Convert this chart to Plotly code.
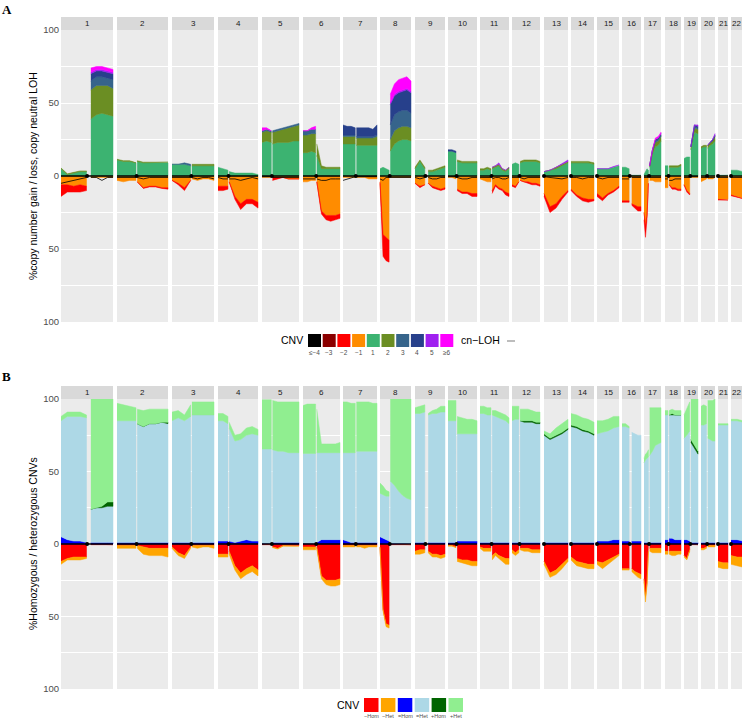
import numpy as np
import plotly.graph_objects as go

# ---------------- data ----------------
CHROMS = list(range(1, 23))
CHR_LEN = [249, 243, 198, 191, 181, 171, 159, 146, 141, 136, 135, 134, 115, 107, 103, 90, 81, 78, 59, 63, 48, 51]
CENTRO = [125, 93.3, 91, 50.4, 48.4, 61, 59.9, 45.6, 49, 40.2, 53.7, 35.8, 17.9, 17.6, 19, 36.6, 24, 17.2, 26.5, 27.5, 13.2, 14.7]
Q_START = {1: 143, 9: 62, 16: 46}
ACRO = [13, 14, 15, 21, 22]

# Panel A: % samples with copy number change (layer thickness), (p arm, q arm)
A_LOSS1 = {1: ([6, 6, 7, 6, 7], [1]), 2: ([3, 4, 3, 3], [4, 8, 7, 7, 8, 8]), 3: ([3, 5, 8, 3], [2, 3, 2, 2, 3]),
           4: ([7, 7, 7], [4, 14, 19, 16, 16, 18]), 5: ([1], [1, 1, 1, 2, 2, 2]), 6: ([4, 4, 3, 3], [4, 24, 27, 27, 27, 26]),
           7: ([1], [1, 1, 1, 2, 2, 2]), 8: ([4, 40, 42, 44], [1]), 9: ([5, 7, 6], [5, 7, 8, 9, 8]),
           10: ([1, 1, 2], [9, 11, 11, 12, 12]), 11: ([2, 3, 4, 4], [10, 6, 8, 9, 11, 12]), 12: ([6, 7, 4], [3, 4, 4, 5, 5, 6]),
           13: (None, [12, 21, 19, 14, 10]), 14: (None, [9, 13, 15, 16, 16]), 15: (None, [12, 15, 12, 10, 7]),
           16: ([17, 17, 17], [19, 20, 21, 21]), 17: ([25, 34, 27, 5], [3, 3, 4, 4, 4]), 18: ([8, 8], [6, 8, 8, 9, 9]),
           19: ([6, 10, 12], [1]), 20: ([4, 3, 2], [2, 2, 2, 1]), 21: (None, [16, 16, 16]), 22: (None, [13, 14, 15])}
A_LOSS2 = {1: ([8, 5, 4, 5, 3], None), 2: (None, [0, 0.5, 0.5, 0.5, 0.5, 1]), 3: ([0, 1, 2, 0], None),
           4: ([3, 3, 2], [0, 2, 4, 3, 3, 4]), 5: (None, [2, 1, 0, 0, 0, 0]), 6: (None, [0, 2, 3, 4, 3, 3]),
           8: ([1, 15, 16, 15], None), 9: ([0, 1, 0], [0, 1, 1, 1, 1]), 10: (None, [1, 1, 1, 2, 2]),
           11: (None, [2, 1, 1, 1, 2, 2]), 12: ([1, 1, 0], [0, 0, 1, 1, 1, 1]), 13: (None, [2, 4, 3, 2, 1]),
           14: (None, [1, 1, 2, 2, 1]), 15: (None, [2, 2, 1, 1, 1]), 16: ([1], [1, 2, 3, 3]), 17: ([5, 8, 3, 0], None),
           18: (None, [0, 1, 1, 1, 1]), 19: ([0, 1, 1], None), 21: (None, [0.5]), 22: (None, [0.5])}
A_LOSS3 = {}
A_LOSS4 = {}
A_GAIN1 = {1: ([5, 1, 2, 3, 3], [39, 42, 43, 42, 41]), 2: ([11, 10, 10, 9], [10, 9, 9, 9, 9, 9]), 3: ([8, 8, 8, 7], [7]),
           4: ([6, 5, 4], [3, 2, 2, 2, 2, 1]), 5: ([23, 24, 23], [22, 23, 23, 23, 24, 24]), 6: ([16, 16, 17, 16], [14, 5, 5, 5, 5, 5]),
           7: ([22], [21]), 8: ([5, 6, 5, 4], [17, 22, 24, 25, 25, 24]), 9: ([5, 10, 5], [3, 3, 4, 5, 6]),
           10: ([17, 17, 16], [10, 9, 9, 9, 9]), 11: ([4, 4, 5, 4], [5, 6, 7, 4, 3, 5]), 12: ([8, 9, 8], [9, 10, 10, 10, 10, 9]),
           13: (None, [3, 4, 5, 7, 9]), 14: (None, [9, 9, 9, 9, 8]), 15: (None, [5, 5, 5, 6, 7]), 16: ([6, 6, 5], [0.5]),
           17: ([1, 3, 5, 4], [6, 15, 20, 21, 24]), 18: ([7, 7], [6, 6, 6, 6, 7]), 19: ([12, 13, 13], [18, 30, 29]),
           20: ([19, 20, 20], [19, 21, 22, 24]), 21: (None, [0.5]), 22: (None, [4, 4, 3])}
A_GAIN2 = {1: ([0.5], [20, 20, 19, 20, 19]), 2: ([0.5], [0.5]), 3: (None, [1]), 5: ([7], [8, 8, 9, 10, 10, 11]),
           6: ([12, 12, 12, 13], [8, 2, 1, 1, 1, 1]), 7: ([5], [5, 5, 5, 5, 5, 6]), 8: (None, [8, 9, 9, 9, 9, 9]),
           9: ([1], [1]), 10: (None, [1]), 11: ([1], [1]), 12: (None, [1]), 13: (None, [0, 0, 1, 1, 1]), 14: (None, [1]),
           17: (None, [1, 2, 3, 3, 3]), 18: (None, [1]), 19: (None, [2, 3, 3]), 20: ([1], [2, 2, 2, 3])}
A_GAIN3 = {1: (None, [6, 6, 6, 5, 6]), 3: ([0, 0, 1, 1], None), 5: ([1], [1]), 6: ([3], None), 7: ([1], [1]),
           8: (None, [10, 11, 11, 11, 11, 10]), 17: (None, [0, 1, 1, 1, 1]), 19: (None, [0, 1, 1])}
A_GAIN4 = {1: (None, [5, 4, 4, 4, 4]), 7: ([7, 6, 6, 5], [6, 6, 6, 6, 5, 7]), 8: (None, [14, 13, 13, 13, 14, 14]),
           10: ([1], None), 17: (None, [0, 0, 1, 1, 1]), 19: (None, [0, 1, 1]), 20: (None, [0, 0, 1, 1])}
A_GAIN5 = {1: (None, [1]), 8: (None, [1]), 11: (None, [0, 0, 1, 0, 0, 0]), 13: (None, [0, 0, 0, 0.5, 1]),
           15: (None, [0, 0, 0, 0.5, 0.5]), 19: (None, [0, 0, 1]), 20: (None, [0, 0, 0, 1])}
A_GAIN6 = {1: (None, [3, 2, 2, 2, 2]), 5: ([2, 1, 0], None), 6: ([0, 0, 1, 2], None),
           8: (None, [6, 7, 8, 8, 8, 7]), 17: (None, [0, 0, 1, 1, 1])}
A_CNLOH = {1: ([5, 4, 3, 2, 1], [1, 1, 3, 1, 1]), 2: ([1], [1, 2, 1, 1, 1, 1]), 3: ([1], [1, 2, 1, 1, 2]),
           4: ([1, 2, 2], [2, 2, 3, 2, 1, 2]), 5: ([0.5], [1]), 6: ([2], [2, 3, 3, 2, 2, 2]), 7: ([3, 2, 1, 0.5], [0.5]),
           8: ([2, 3, 1, 1], [1]), 9: ([1, 2, 1], [1, 2, 2, 1, 1]), 10: ([0.5], [1, 2, 2, 1, 1]),
           11: ([1], [2, 1, 1, 2, 2, 1]), 12: ([1], [1, 2, 1, 1, 1, 1]), 13: (None, [0.5, 1, 2, 2, 1]),
           14: (None, [1, 1, 2, 1, 1]), 15: (None, [1, 2, 1, 1, 1]), 16: ([2], [1]), 17: ([1], [1]),
           18: ([2], [3, 3, 2, 2, 2]), 19: ([1], [0.5]), 20: ([1], [1]), 21: (None, [1]), 22: (None, [1])}

# Panel B: homozygous / heterozygous CNVs (layer thickness)
B_EQHOM = {1: ([5, 3, 2, 2, 1], [1]), 2: ([1], [1]), 3: ([1], [1]), 4: ([2], [2, 1, 2, 3, 2, 2]), 5: ([0.5], [1]),
           6: ([0.5], [1, 3, 3, 3, 3, 3]), 7: ([3, 2, 1, 1], [1]), 8: ([5, 4, 3, 2], [0.5]), 9: ([1], [1]), 10: ([1], [2]),
           11: ([1], [1]), 12: ([1], [1]), 13: (None, [1]), 14: (None, [1]), 15: (None, [2, 2, 2, 3, 3]), 16: ([2], [2]),
           17: ([1], [1]), 18: ([3], [4, 4, 3, 3, 3]), 19: ([3, 3, 2], [1]), 20: ([1], [1]), 21: (None, [1]), 22: (None, [3, 3, 2])}
B_EQHET = {1: ([80, 85, 86, 86, 86], [23, 24, 24, 25, 25]), 2: ([84], [82, 80, 82, 82, 83, 82]),
           3: ([84, 86, 84, 87], [88]), 4: ([83, 83, 81], [78, 70, 70, 72, 74, 73]), 5: ([65], [64, 63, 63, 62, 62, 62]),
           6: ([62], [62, 60, 60, 60, 60, 60]), 7: ([60, 61, 62, 62], [63]), 8: ([30, 30, 30, 31], [43, 40, 36, 33, 31, 30]),
           9: ([89, 89, 90], [88, 89, 89, 90, 90]), 10: ([84], [74]), 11: ([89, 89, 88, 88], [88, 87, 86, 85, 84, 82]),
           12: ([84, 85, 85], [84, 83, 83, 83, 82, 82]), 13: (None, [74, 71, 73, 75, 78]), 14: (None, [80, 79, 77, 76, 74]),
           15: (None, [74, 75, 76, 77, 78]), 16: ([79, 79, 78], [75, 74, 73, 73]), 17: ([55, 57, 58, 59], [60, 63, 67, 68, 69]),
           18: ([86], [85, 85, 86, 86, 86]), 19: ([70, 72, 76], [69, 65, 61]), 20: ([81, 81, 82], [72, 71, 70, 70]),
           21: (None, [81]), 22: (None, [82])}
B_PLHOM = {1: (None, [0, 0, 1, 3, 3]), 2: (None, [0, 0, 0, 0, 0, 1]), 12: (None, [0, 1, 1, 1, 1, 1]),
           13: (None, [1]), 14: (None, [1]), 18: (None, [0, 1, 0, 0, 0]), 19: (None, [2])}
B_PLHET = {1: ([3, 3, 3, 3, 2], [76, 75, 74, 71, 71]), 2: ([12, 11, 10, 9], [10, 11, 10, 10, 9, 9]), 3: ([6, 5, 4, 8], [9]),
           4: ([5], [4, 4, 4, 5, 5, 4]), 5: ([34], [34, 34, 34, 35, 35, 35]), 6: ([33, 34, 34, 34], [30, 6, 6, 6, 6, 7]),
           7: ([35, 35, 34, 34], [34, 34, 34, 34, 33, 33]), 8: ([7, 6, 4, 3], [56.5, 59.5, 63.5, 66.5, 68.5, 69.5]),
           9: ([4, 5, 5], [1, 2, 3, 4, 4]), 10: ([14], [12, 11, 10, 10, 9]), 11: ([5], [3, 4, 4, 4, 4, 4]),
           12: ([10, 9, 9], [8, 8, 8, 7, 7, 7]), 13: (None, [2, 3, 5, 6, 6]), 14: (None, [8]),
           15: (None, [9, 8, 8, 8, 7]), 16: ([2, 2, 1], None), 17: ([3, 4, 4, 5], [33, 30, 26, 25, 24]),
           18: ([3], [3]), 19: ([16, 18, 20], [28, 32, 36]), 20: ([13, 14, 12], [26, 27, 28, 29]), 21: (None, [1]), 22: (None, [1])}
B_MIHOM = {1: ([12, 10, 9, 9, 9], [0.5]), 2: ([1], [1, 2, 3, 3, 3, 3]), 3: ([2, 6, 8, 2], [1]), 4: ([7], [5, 15, 20, 17, 15, 18]),
           5: ([0.5], [2, 3, 1, 1, 1, 1]), 6: ([2], [2, 22, 25, 25, 25, 24]), 7: ([1], [1]), 8: ([2, 45, 55, 56], [0.5]),
           9: ([5, 4, 4], [5, 7, 7, 8, 7]), 10: ([1, 1, 2], [10, 11, 11, 12, 12]), 11: ([2, 3, 3, 3], [8, 6, 8, 9, 10, 10]),
           12: ([4, 6, 4], [3, 3, 3, 4, 4, 4]), 13: (None, [12, 20, 18, 14, 10]), 14: (None, [9, 12, 13, 14, 14]),
           15: (None, [12, 13, 11, 9, 7]), 16: ([17], [17, 19, 20, 21]), 17: ([24, 36, 27, 5], [3]), 18: ([5], [5]),
           19: ([8, 10, 4], [0.5]), 20: ([3, 3, 2], [1]), 21: (None, [12, 13, 13]), 22: (None, [8, 9, 9])}
B_MIHET = {1: ([2, 1, 2, 2, 1], None), 2: ([2], [2, 5, 5, 5, 5, 6]), 3: ([1, 2, 2, 1], [1, 2, 1, 1, 2]), 4: ([2], [2, 3, 4, 4, 4, 4]),
           5: (None, [0.5]), 6: ([2], [1, 2, 3, 4, 4, 4]), 7: ([1], [1, 1, 2, 1, 1, 1]), 8: ([0.5, 1, 2, 2], None),
           9: ([2, 3, 2], [1, 2, 2, 2, 2]), 10: ([0.5], [2, 2, 3, 3, 3]), 11: ([1, 2, 2, 2], [3, 2, 2, 3, 4, 4]),
           12: ([2], [1, 2, 2, 2, 2, 2]), 13: (None, [2, 3, 3, 3, 2]), 14: (None, [2, 3, 3, 3, 3]), 15: (None, [2, 4, 3, 2, 1]),
           16: ([1], [2, 2, 3, 3]), 17: ([2, 4, 2, 1], [2, 3, 3, 3, 3]), 18: ([2], [2, 3, 3, 2, 2]), 19: ([1], None),
           20: ([1], [1]), 21: (None, [4]), 22: (None, [6, 6, 7])}

A_LEGEND_LABELS = ["≤−4", "−3", "−2", "−1", "1", "2", "3", "4", "5", "≥6"]
B_LEGEND_LABELS = ["−Hom", "−Het", "=Hom", "=Het", "+Hom", "+Het"]

# ---------------- layout constants ----------------
W, H = 742, 719
PANEL_X0 = [61, 117, 172, 218, 262, 303, 343, 380, 415, 448, 480, 512, 544, 571, 597, 622, 644, 665, 684, 701, 718, 731]
PANEL_X1 = [113, 168, 214, 258, 299, 340, 377, 411, 445, 477, 509, 540, 568, 594, 619, 641, 661, 681, 698, 715, 728, 743]
A_TOP, A_BOT = 30, 322
B_TOP, B_BOT = 399, 689
FONT = "Liberation Sans, Arial, sans-serif"
SERIF = "Liberation Serif, Times New Roman, serif"

A_COL = {"m4": "#000000", "m3": "#8B0000", "m2": "#FF0000", "m1": "#FF8C00",
         "p1": "#3CB371", "p2": "#6B8E23", "p3": "#36648B", "p4": "#27408B", "p5": "#A020F0", "p6": "#FF00FF"}
B_COL = {"mhom": "#FF0000", "mhet": "#FFA500", "ehom": "#0000FF", "ehet": "#ADD8E6", "phom": "#006400", "phet": "#90EE90"}


def px(x):
    return x / W


def py(y):
    return 1 - y / H


def data_start(c):
    return CENTRO[c - 1] if c in ACRO else 0.0


def mb_px(c, mb):
    i = c - 1
    s, e = data_start(c), CHR_LEN[i]
    return PANEL_X0[i] + (np.asarray(mb, float) - s) / (e - s) * (PANEL_X1[i] - PANEL_X0[i])


def arm_px(c, arm):
    i = c - 1
    if c in ACRO:
        return None if arm == 0 else (PANEL_X0[i], PANEL_X1[i])
    if arm == 0:
        return PANEL_X0[i], float(mb_px(c, CENTRO[i])) - 0.6
    qs = Q_START.get(c)
    if qs is None:
        return float(mb_px(c, CENTRO[i])) + 0.6, PANEL_X1[i]
    return float(mb_px(c, qs)), PANEL_X1[i]


def get_vals(d, c, arm):
    v = d.get(c)
    if v is None or v[arm] is None:
        return None
    return np.asarray(v[arm], float)


def fit(a, n):
    if len(a) == 1:
        return np.full(n, a[0])
    if len(a) == n:
        return a
    return np.interp(np.linspace(0, 1, n), np.linspace(0, 1, len(a)), a)


def add_stack(fig, specs, sign, xa, ya):
    polys = {k: ([], []) for k, _, _ in specs}
    for c in CHROMS:
        for arm in (0, 1):
            rng = arm_px(c, arm)
            if rng is None:
                continue
            arrs = [get_vals(d, c, arm) for _, d, _ in specs]
            lens = [len(a) for a in arrs if a is not None]
            if not lens:
                continue
            n = max(max(lens), 2)
            xs = np.linspace(rng[0], rng[1], n)
            base = np.zeros(n)
            for (k, d, col), a in zip(specs, arrs):
                if a is None:
                    continue
                a = fit(a, n)
                top = base + a
                X, Y = polys[k]
                X += list(xs) + list(xs[::-1]) + [None]
                Y += list(sign * top) + list(sign * base[::-1]) + [None]
                base = top
    for k, d, col in specs:
        X, Y = polys[k]
        if not X:
            continue
        fig.add_trace(go.Scatter(x=X, y=Y, mode="lines", fill="toself", fillcolor=col,
                                 line=dict(color=col, width=0.5), hoverinfo="skip",
                                 showlegend=False, xaxis=xa, yaxis=ya))


def add_baseline(fig, xa, ya, loh=None):
    X, Y = [], []
    for c in CHROMS:
        i = c - 1
        X += [PANEL_X0[i], PANEL_X1[i], None]
        Y += [0, 0, None]
    fig.add_trace(go.Scatter(x=X, y=Y, mode="lines", line=dict(color="black", width=1.4),
                             hoverinfo="skip", showlegend=False, xaxis=xa, yaxis=ya))
    if loh is not None:
        X, Y = [], []
        for c in CHROMS:
            for arm in (0, 1):
                rng = arm_px(c, arm)
                a = get_vals(loh, c, arm)
                if rng is None or a is None:
                    continue
                n = max(len(a), 2)
                xs = np.linspace(rng[0], rng[1], n)
                X += list(xs) + [None]
                Y += list(-fit(a, n)) + [None]
        fig.add_trace(go.Scatter(x=X, y=Y, mode="lines", line=dict(color="black", width=0.8),
                                 hoverinfo="skip", showlegend=False, xaxis=xa, yaxis=ya))
    cx = [float(mb_px(c, CENTRO[c - 1])) for c in CHROMS]
    fig.add_trace(go.Scatter(x=cx, y=[0] * len(cx), mode="markers", marker=dict(color="black", size=4),
                             hoverinfo="skip", showlegend=False, xaxis=xa, yaxis=ya))


def note(x, y, text, size, color="black", family=FONT, xanchor="center", angle=0):
    return dict(x=px(x), y=py(y), xref="paper", yref="paper", text=text, showarrow=False,
                xanchor=xanchor, yanchor="middle", textangle=angle,
                font=dict(size=size, family=family, color=color))


fig = go.Figure()

# Panel A
add_stack(fig, [("m1", A_LOSS1, A_COL["m1"]), ("m2", A_LOSS2, A_COL["m2"]),
                ("m3", A_LOSS3, A_COL["m3"]), ("m4", A_LOSS4, A_COL["m4"])], -1, "x", "y")
add_stack(fig, [("p1", A_GAIN1, A_COL["p1"]), ("p2", A_GAIN2, A_COL["p2"]), ("p3", A_GAIN3, A_COL["p3"]),
                ("p4", A_GAIN4, A_COL["p4"]), ("p5", A_GAIN5, A_COL["p5"]), ("p6", A_GAIN6, A_COL["p6"])], 1, "x", "y")
add_baseline(fig, "x", "y", A_CNLOH)

# Panel B
add_stack(fig, [("mhom", B_MIHOM, B_COL["mhom"]), ("mhet", B_MIHET, B_COL["mhet"])], -1, "x2", "y2")
add_stack(fig, [("ehom", B_EQHOM, B_COL["ehom"]), ("ehet", B_EQHET, B_COL["ehet"]),
                ("phom", B_PLHOM, B_COL["phom"]), ("phet", B_PLHET, B_COL["phet"])], 1, "x2", "y2")
add_baseline(fig, "x2", "y2")

shapes, annots = [], []
for (xr, yr, top, bot) in (("x", "y", A_TOP, A_BOT), ("x2", "y2", B_TOP, B_BOT)):
    for c in CHROMS:
        i = c - 1
        shapes.append(dict(type="rect", xref=xr, yref=yr, x0=PANEL_X0[i], x1=PANEL_X1[i], y0=-100, y1=100,
                           fillcolor="#EBEBEB", line=dict(width=0), layer="below"))
        shapes.append(dict(type="rect", xref=xr, yref="paper", x0=PANEL_X0[i], x1=PANEL_X1[i],
                           y0=py(top), y1=py(top - 13), fillcolor="#D9D9D9", line=dict(width=0), layer="below"))
        annots.append(note((PANEL_X0[i] + min(PANEL_X1[i], W)) / 2, top - 6.5, str(c), 8, "#1A1A1A"))

# Panel titles & y-axis titles
annots.append(note(6.5, 9, "<b>A</b>", 13, family=SERIF))
annots.append(note(6.5, 376, "<b>B</b>", 13, family=SERIF))
annots.append(note(33, (A_TOP + A_BOT) / 2, "%copy number gain / loss, copy neutral LOH", 10.5, angle=-90))
annots.append(note(33, (B_TOP + B_BOT) / 2, "%Homozygous / heterozygous CNVs", 10.5, angle=-90))

# Legend A
annots.append(note(305, 340.5, "CNV", 10.5, xanchor="right"))
a_cols = [A_COL[k] for k in ["m4", "m3", "m2", "m1", "p1", "p2", "p3", "p4", "p5", "p6"]]
for k, (lab, col) in enumerate(zip(A_LEGEND_LABELS, a_cols)):
    x0 = 308 + 14.7 * k
    shapes.append(dict(type="rect", xref="paper", yref="paper", x0=px(x0), x1=px(x0 + 13),
                       y0=py(347), y1=py(334), fillcolor=col, line=dict(width=0)))
    annots.append(note(x0 + 6.5, 353, lab, 6.5, "#4D4D4D"))
annots.append(note(459, 340.5, "cn−LOH", 10.5, xanchor="left"))
shapes.append(dict(type="line", xref="paper", yref="paper", x0=px(507), x1=px(515), y0=py(341), y1=py(341),
                   line=dict(color="#9A9A9A", width=1.3)))

# Legend B
annots.append(note(361, 705, "CNV", 10.5, xanchor="right"))
b_cols = [B_COL[k] for k in ["mhom", "mhet", "ehom", "ehet", "phom", "phet"]]
for k, (lab, col) in enumerate(zip(B_LEGEND_LABELS, b_cols)):
    x0 = 364 + 16.9 * k
    shapes.append(dict(type="rect", xref="paper", yref="paper", x0=px(x0), x1=px(x0 + 14.5),
                       y0=py(712), y1=py(698), fillcolor=col, line=dict(width=0)))
    annots.append(note(x0 + 7.2, 716, lab, 5.5, "#4D4D4D"))

yax = dict(range=[-100, 100], tickvals=[-100, -50, 0, 50, 100], ticktext=["100", "50", "0", "50", "100"],
           showgrid=True, gridcolor="white", gridwidth=1.1, zeroline=False, ticks="",
           tickfont=dict(size=9.5, color="#4D4D4D", family=FONT), ticklabelstandoff=2,
           minor=dict(tickvals=[-75, -25, 25, 75], showgrid=True, gridcolor="white", gridwidth=0.5),
           fixedrange=True, automargin=False)
xax = dict(range=[0, W], domain=[0, 1], visible=False, fixedrange=True, automargin=False)

fig.update_layout(
    width=W, height=H, margin=dict(l=0, r=0, t=0, b=0, autoexpand=False),
    paper_bgcolor="white", plot_bgcolor="white",
    xaxis=xax, xaxis2=dict(xax, anchor="y2"),
    yaxis=dict(yax, domain=[py(A_BOT), py(A_TOP)], anchor="free", position=px(61)),
    yaxis2=dict(yax, domain=[py(B_BOT), py(B_TOP)], anchor="free", position=px(61)),
    shapes=shapes, annotations=annots, showlegend=False,
)

fig.write_html("out.html", config={"displayModeBar": False},
               post_script="document.body.style.margin='0';document.body.style.overflow='hidden';")
